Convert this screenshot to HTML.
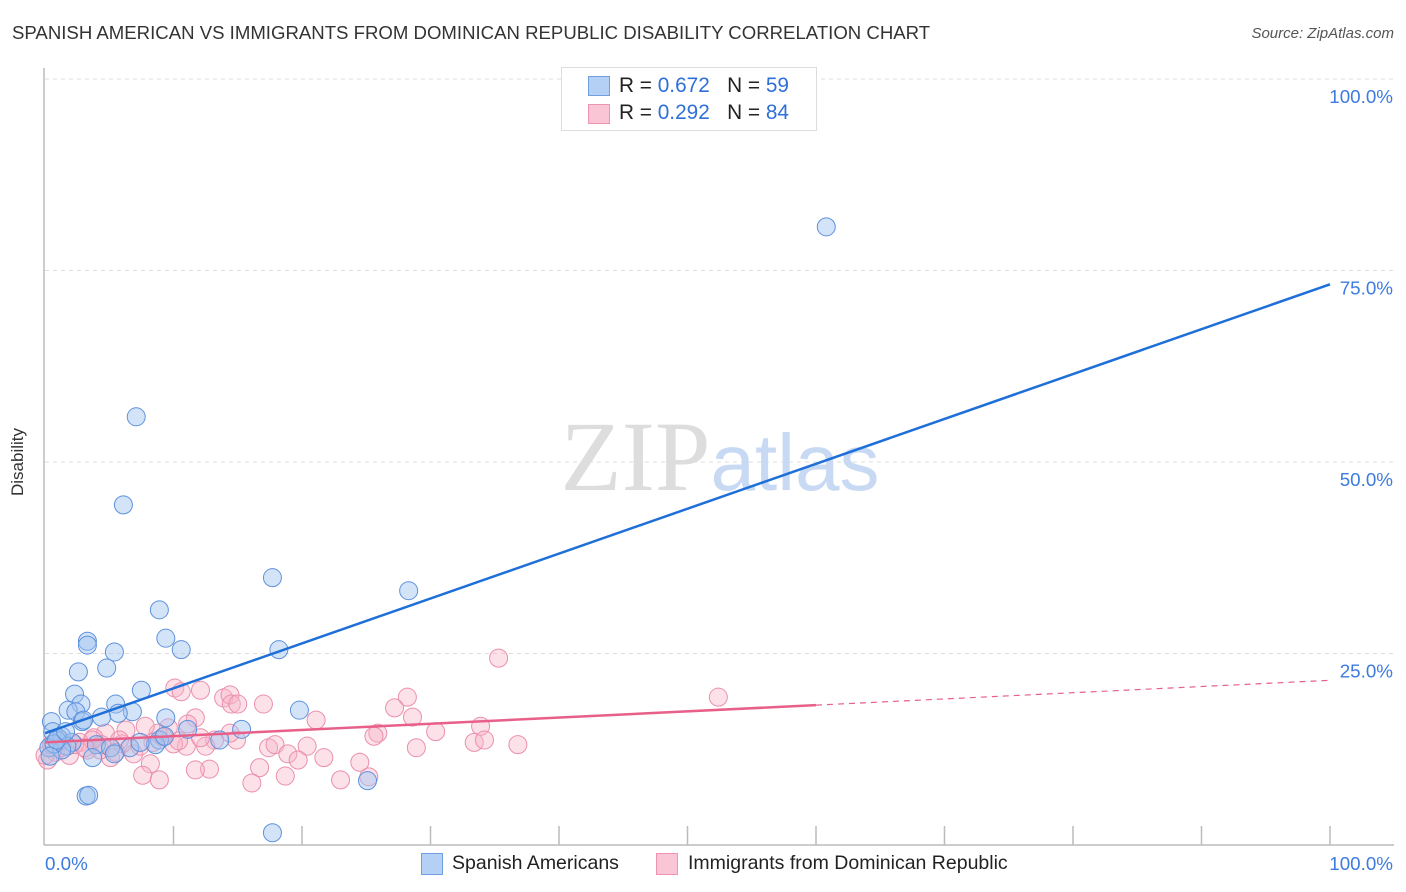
<!DOCTYPE html>
<html><head><meta charset="utf-8"><style>
body{margin:0;background:#fff;font-family:"Liberation Sans",sans-serif;}
#wrap{position:relative;width:1406px;height:892px;overflow:hidden;}
.t{position:absolute;white-space:nowrap;}
</style></head><body>
<div id="wrap">
<div class="t" style="left:12px;top:22px;font-size:18.6px;color:#333;">SPANISH AMERICAN VS IMMIGRANTS FROM DOMINICAN REPUBLIC DISABILITY CORRELATION CHART</div>
<div class="t" style="right:12px;top:25px;font-size:15px;color:#555;font-style:italic;">Source: ZipAtlas.com</div>
<div class="t" style="left:8px;top:496px;font-size:17px;color:#333;transform:rotate(-90deg);transform-origin:left top;">Disability</div>
<svg id="svg" width="1406" height="892" style="position:absolute;left:0;top:0"></svg>
<div class="t" style="left:561px;top:67px;width:254px;height:62px;border:1px solid #ddd;background:#fff;">
 <div style="position:absolute;left:26px;top:8px;width:20px;height:18px;background:#b5d0f5;border:1px solid #6f9fe0;"></div>
 <div class="t" style="left:57px;top:6px;font-size:20.8px;color:#222;">R = <span style="color:#2f6fd8">0.672</span>&nbsp;&nbsp;&nbsp;N = <span style="color:#2f6fd8">59</span></div>
 <div style="position:absolute;left:26px;top:36px;width:20px;height:18px;background:#fac6d6;border:1px solid #ee93b0;"></div>
 <div class="t" style="left:57px;top:33px;font-size:20.8px;color:#222;">R = <span style="color:#2f6fd8">0.292</span>&nbsp;&nbsp;&nbsp;N = <span style="color:#2f6fd8">84</span></div>
</div>
<div style="position:absolute;left:421px;top:853px;width:20px;height:20px;background:#b5d0f5;border:1px solid #6f9fe0;"></div>
<div class="t" style="left:452px;top:852px;font-size:19.5px;color:#222;">Spanish Americans</div>
<div style="position:absolute;left:656px;top:853px;width:20px;height:20px;background:#fac6d6;border:1px solid #ee93b0;"></div>
<div class="t" style="left:688px;top:852px;font-size:19.5px;color:#222;">Immigrants from Dominican Republic</div>
</div>
<script>
const blueX=[60.8,7.1,6.1,17.7,28.3,8.9,9.4,3.3,3.3,5.4,10.6,18.2,2.6,4.8,7.5,2.3,2.8,5.5,1.8,2.4,19.8,9.4,6.8,5.7,0.5,4.4,2.9,3.0,15.3,11.1,0.6,1.3,1.0,13.6,8.9,2.1,8.6,4.0,1.7,0.3,5.1,1.3,6.6,0.7,3.7,5.4,25.1,3.2,3.4,17.7,0.4,0.9,1.6,7.4,9.3];
const blueY=[80.7,55.9,44.4,34.9,33.2,30.7,27.0,26.6,26.1,25.2,25.5,25.5,22.6,23.1,20.2,19.7,18.4,18.4,17.6,17.4,17.6,16.6,17.4,17.2,16.1,16.7,16.1,16.3,15.1,15.1,14.8,14.2,14.0,13.7,13.7,13.4,13.1,13.1,12.9,12.7,12.7,12.4,12.7,13.2,11.4,11.9,8.4,6.4,6.5,1.6,11.6,13.7,14.8,13.4,14.2];
const pinkX=[52.4,35.3,10.1,12.1,10.6,13.9,14.4,14.5,15.0,17.0,28.2,27.2,28.6,21.1,33.9,30.4,25.9,25.6,11.7,11.1,9.6,8.8,7.8,6.3,13.2,14.9,12.5,11.0,10.0,8.4,20.4,17.4,17.9,18.9,19.7,21.7,28.9,33.4,34.2,36.8,4.7,3.8,2.7,1.3,0.8,1.9,0.2,5.1,6.9,6.0,4.3,16.7,8.2,12.8,11.7,7.6,8.9,18.7,16.1,23.0,24.5,25.2,3.3,2.3,5.8,14.4,12.1,1.2,0.0,0.5,10.4,9.2,7.4,5.5,4.4,3.7,3.1];
const pinkY=[19.3,24.4,20.5,20.2,20.0,19.2,19.6,18.4,18.4,18.4,19.3,17.9,16.7,16.3,15.5,14.8,14.6,14.2,16.6,15.8,15.3,14.6,15.5,15.0,13.7,13.7,12.9,12.9,13.2,13.4,12.9,12.7,13.1,11.9,11.1,11.4,12.7,13.4,13.7,13.1,14.6,14.0,13.4,12.7,12.1,11.7,11.1,11.4,11.9,13.2,12.4,10.1,10.6,9.9,9.8,9.1,8.5,9.0,8.1,8.5,10.8,8.9,12.4,13.1,13.7,14.6,14.0,13.7,11.7,13.1,13.6,14.1,12.9,12.1,13.1,13.7,12.7];
const blueTrend=[14.6,73.2];
const pinkTrend=[13.4,21.5];
const pinkSolidEnd=60;
const yTicks=[25,50,75,100];
const xTickVals=[10,20,30,40,50,60,70,80,90,100];

const X0=45,X1=1330,Y0=845,PX=7.66;
const sx=v=>X0+(X1-X0)*v/100;
const sy=v=>Y0-PX*v;
const svg=document.getElementById('svg');
const NS='http://www.w3.org/2000/svg';
function mk(tag,attrs){const e=document.createElementNS(NS,tag);for(const k in attrs)e.setAttribute(k,attrs[k]);svg.appendChild(e);return e;}

yTicks.forEach(v=>{
 const g=mk('line',{x1:X0,x2:1394,y1:sy(v),y2:sy(v),stroke:'#ddd','stroke-dasharray':'4,4'});
 
 
 const t=mk('text',{x:1393,y:sy(v)+24,'text-anchor':'end','font-size':18.8,fill:'#3d7be0','font-family':'Liberation Sans, sans-serif'});
 t.textContent=v.toFixed(1)+'%';
 
 
});
const wm=mk('text',{x:720,y:490,'text-anchor':'middle','font-size':100,'font-family':'Liberation Serif, serif',fill:'#ddd'});
wm.innerHTML='ZIP<tspan fill="#c8daf3" font-family="Liberation Sans, sans-serif" font-size="80">atlas</tspan>';


const ax=mk('line',{x1:44,x2:44,y1:68,y2:Y0,stroke:'#bbb','stroke-width':1.5});


const bx=mk('line',{x1:44,x2:1394,y1:Y0,y2:Y0,stroke:'#bbb','stroke-width':1.5});


xTickVals.forEach(v=>{
 const l=mk('line',{x1:sx(v),x2:sx(v),y1:826,y2:Y0,stroke:'#bbb','stroke-width':1.5});
 
 
});
[[0,'start',45],[100,'end',1393]].forEach(([v,a,x])=>{
 const t=mk('text',{x:x,y:870,'text-anchor':a,'font-size':18.8,fill:'#3d7be0','font-family':'Liberation Sans, sans-serif'});
 t.textContent=v.toFixed(1)+'%';
 
 
});
pinkX.forEach((x,i)=>{
 const c=mk('circle',{cx:sx(x),cy:sy(pinkY[i]),r:9,fill:'rgba(248,180,200,0.4)',stroke:'#eb8fad','stroke-width':1});
 
 
});
blueX.forEach((x,i)=>{
 const c=mk('circle',{cx:sx(x),cy:sy(blueY[i]),r:9,fill:'rgba(160,196,240,0.45)',stroke:'#5d91dc','stroke-width':1});
 
 
});
const pAt=x=>pinkTrend[0]+(pinkTrend[1]-pinkTrend[0])*x/100;
const pl=mk('line',{x1:sx(0),y1:sy(pAt(0)),x2:sx(pinkSolidEnd),y2:sy(pAt(pinkSolidEnd)),stroke:'#e8608a','stroke-width':2.5});


const pd=mk('line',{x1:sx(pinkSolidEnd),y1:sy(pAt(pinkSolidEnd)),x2:sx(100),y2:sy(pAt(100)),stroke:'#e8608a','stroke-width':1.2,'stroke-dasharray':'6,5'});


const bl=mk('line',{x1:sx(0),y1:sy(blueTrend[0]),x2:sx(100),y2:sy(blueTrend[1]),stroke:'#1f6fd9','stroke-width':2.5});


</script>
</body></html>
